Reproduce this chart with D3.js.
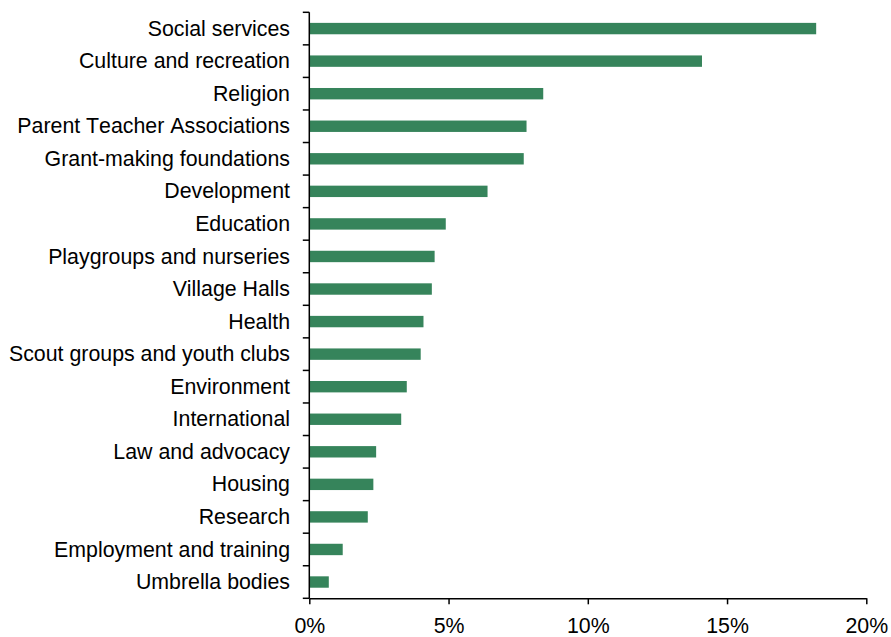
<!DOCTYPE html>
<html>
<head>
<meta charset="utf-8">
<script src="https://cdn.jsdelivr.net/npm/d3@7"></script>
<style>
  html, body { margin: 0; padding: 0; background: #fff; }
  svg { display: block; }
  text { font-family: "Liberation Sans", Arial, sans-serif; fill: #000; font-kerning: none; }
</style>
</head>
<body>
<svg id="chart" width="891" height="637"></svg>
<script>
// Share of organisations by sector (%)
const categories = [
  "Social services", "Culture and recreation", "Religion",
  "Parent Teacher Associations", "Grant-making foundations", "Development",
  "Education", "Playgroups and nurseries", "Village Halls", "Health",
  "Scout groups and youth clubs", "Environment", "International",
  "Law and advocacy", "Housing", "Research", "Employment and training",
  "Umbrella bodies"
];
const values = [
  18.2, 14.1, 8.4, 7.8, 7.7, 6.4, 4.9, 4.5, 4.4, 4.1,
  4.0, 3.5, 3.3, 2.4, 2.3, 2.1, 1.2, 0.7
];
const xTicks = [0, 5, 10, 15, 20];

const svg = d3.select("#chart");
const plotLeft = 309.3, plotRight = 866.3, plotTop = 12.3, plotBottom = 598.3;
const fontSize = 21.33;

const x = d3.scaleLinear().domain([0, 20]).range([plotLeft, plotRight]);

// Category bands (boundaries for tick marks) and bars inside them
const yBand = d3.scaleBand().domain(categories).range([plotTop, plotBottom]).padding(0);
const yBar = d3.scaleBand().domain(categories).range([plotTop, plotBottom])
  .paddingInner(0.65).paddingOuter(0.325);

// Bars
svg.append("g")
  .selectAll("rect")
  .data(categories)
  .join("rect")
  .attr("x", x(0))
  .attr("y", d => yBar(d))
  .attr("height", yBar.bandwidth())
  .attr("width", (d, i) => x(values[i]) - x(0))
  .attr("fill", "#36845b");

// X axis
const xAxis = d3.axisBottom(x)
  .tickValues(xTicks)
  .tickFormat(d => d + "%")
  .tickSize(6)
  .tickSizeOuter(0)
  .tickPadding(14);
const gx = svg.append("g")
  .attr("transform", `translate(0,${plotBottom})`)
  .call(xAxis);
gx.select(".domain").attr("stroke", "#000").attr("stroke-width", 1.5);
gx.selectAll(".tick line").attr("stroke", "#000").attr("stroke-width", 1.5);
gx.selectAll(".tick text")
  .style("font-family", '"Liberation Sans", Arial, sans-serif')
  .style("font-size", fontSize + "px")
  .attr("fill", "#000");

// Y axis: vertical line with ticks at category boundaries
const gy = svg.append("g");
gy.append("line")
  .attr("x1", plotLeft).attr("x2", plotLeft)
  .attr("y1", plotTop).attr("y2", plotBottom)
  .attr("stroke", "#000").attr("stroke-width", 1.5);
const boundaries = categories.map(c => yBand(c)).concat([plotBottom]);
gy.selectAll("line.tick")
  .data(boundaries)
  .join("line")
  .attr("class", "tick")
  .attr("x1", plotLeft - 6.5).attr("x2", plotLeft)
  .attr("y1", d => d).attr("y2", d => d)
  .attr("stroke", "#000").attr("stroke-width", 1.5);

// Category labels
gy.selectAll("text")
  .data(categories)
  .join("text")
  .attr("x", 290)
  .attr("y", d => yBand(d) + yBand.bandwidth() / 2)
  .attr("dy", "0.33em")
  .attr("text-anchor", "end")
  .style("font-size", fontSize + "px")
  .text(d => d);
</script>
</body>
</html>
